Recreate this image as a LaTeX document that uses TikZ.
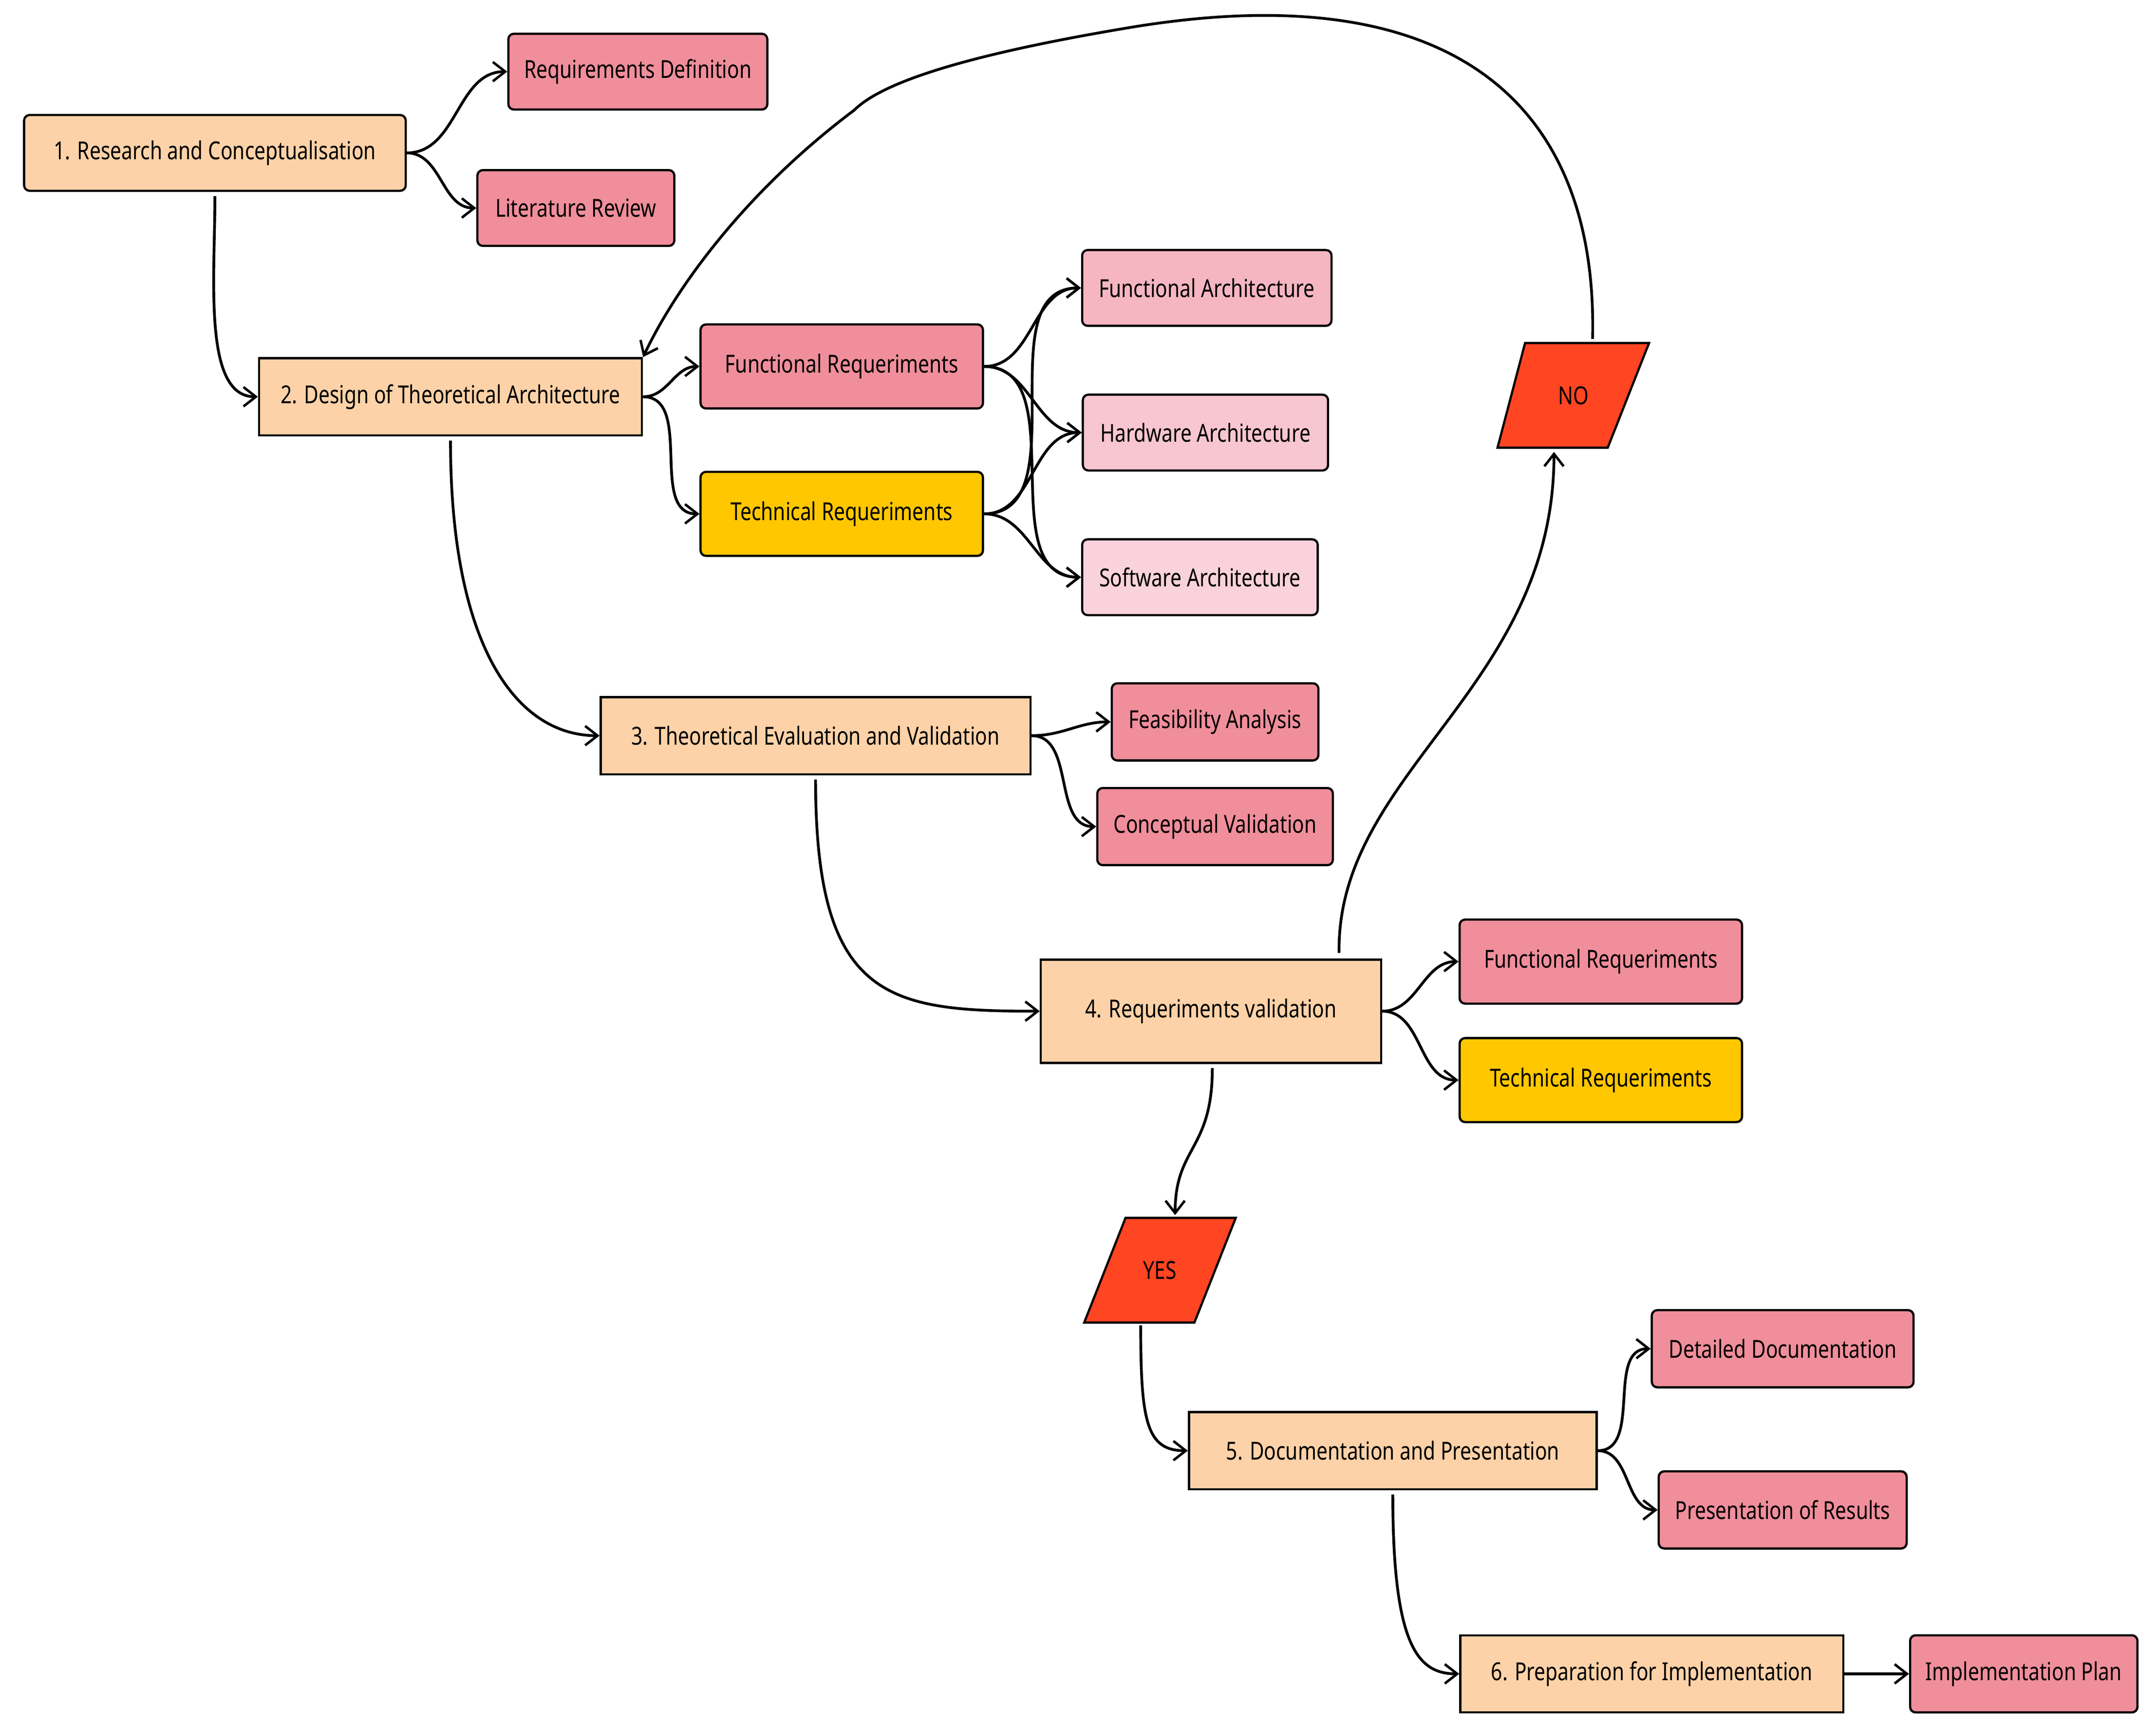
\documentclass[tikz,border=0pt]{standalone}
\usepackage{fontspec}
\setmainfont{Noto Sans}[FakeStretch=0.8]
\usetikzlibrary{arrows.meta}
\definecolor{peach}{HTML}{FDD2A8}
\definecolor{pk}{HTML}{F08E9B}
\definecolor{pk2}{HTML}{F5B6C1}
\definecolor{pk3}{HTML}{F7C6D0}
\definecolor{pk4}{HTML}{F9D2DB}
\definecolor{yel}{HTML}{FFC700}
\definecolor{red}{HTML}{FF4522}
\begin{document}
\begin{tikzpicture}[x=1pt,y=-1pt,
 box/.style={draw,line width=1.6pt,inner sep=0pt,font=\fontsize{18}{20}\selectfont,text=black},
 main/.style={box,fill=peach},
 sub/.style={box,rounded corners=4pt},
 ar/.style={line width=2pt,-{Straight Barb[length=9pt,width=14pt,line width=1.8pt]}}]
\useasboundingbox (0,0) rectangle (1565,1252);
\node[main,rounded corners=4pt,minimum width=277pt,minimum height=55pt] (n1) at (156,111) {1. Research and Conceptualisation};
\node[sub,fill=pk,minimum width=188pt,minimum height=55pt] (rd) at (463,52) {Requirements Definition};
\node[sub,fill=pk,minimum width=143pt,minimum height=55pt] (lr) at (418,151) {Literature Review};
\node[main,minimum width=278pt,minimum height=56pt] (n2) at (327,288) {2. Design of Theoretical Architecture};
\node[sub,fill=pk,minimum width=205pt,minimum height=61pt] (fr) at (611,266) {Functional Requeriments};
\node[sub,fill=yel,minimum width=205pt,minimum height=61pt] (tr) at (611,373) {Technical Requeriments};
\node[sub,fill=pk2,minimum width=181pt,minimum height=55pt] (fa) at (876,209) {Functional Architecture};
\node[sub,fill=pk3,minimum width=178pt,minimum height=55pt] (ha) at (875,314) {Hardware Architecture};
\node[sub,fill=pk4,minimum width=171pt,minimum height=55pt] (sa) at (871,419) {Software Architecture};
\node[main,minimum width=312pt,minimum height=56pt] (n3) at (592,534) {3. Theoretical Evaluation and Validation};
\node[sub,fill=pk,minimum width=150pt,minimum height=56pt] (fe) at (882,524) {Feasibility Analysis};
\node[sub,fill=pk,minimum width=171pt,minimum height=56pt] (cv) at (882,600) {Conceptual Validation};
\node[main,minimum width=247pt,minimum height=75pt] (n4) at (879,734) {4. Requeriments validation};
\node[sub,fill=pk,minimum width=205pt,minimum height=61pt] (fr2) at (1162,698) {Functional Requeriments};
\node[sub,fill=yel,minimum width=205pt,minimum height=61pt] (tr2) at (1162,784) {Technical Requeriments};
\node[main,minimum width=296pt,minimum height=56pt] (n5) at (1011,1053) {5. Documentation and Presentation};
\node[sub,fill=pk,minimum width=190pt,minimum height=56pt] (dd) at (1294,979) {Detailed Documentation};
\node[sub,fill=pk,minimum width=180pt,minimum height=56pt] (pr) at (1294,1096) {Presentation of Results};
\node[main,minimum width=278pt,minimum height=56pt] (n6) at (1199,1215) {6. Preparation for Implementation};
\node[sub,fill=pk,minimum width=165pt,minimum height=56pt] (ip) at (1469,1215) {Implementation Plan};
% parallelograms
\draw[fill=red,line width=1.6pt] (1107,249)--(1197,249)--(1167,325)--(1087,325)--cycle;
\node[font=\fontsize{18}{20}\selectfont] (no) at (1142,287) {NO};
\draw[fill=red,line width=1.6pt] (817,884)--(897,884)--(867,960)--(787,960)--cycle;
\node[font=\fontsize{18}{20}\selectfont] (yes) at (842,922) {YES};
\coordinate (not) at (1156,246);
\coordinate (nob) at (1128,328);
\coordinate (yt) at (853,882);
\coordinate (yb) at (828,962);
% edges
\draw[ar] (n1.south) ++(0,3) .. controls +(0,60) and +(-40,0) .. (n2.west);
\draw[ar] (n1.east) to[out=0,in=180] (rd.west);
\draw[ar] (n1.east) to[out=0,in=180] (lr.west);
\draw[ar] (not) .. controls (1160,80) and (1060,-20) .. (820,20) .. controls (700,40) and (640,60) .. (620,80) .. controls (540,140) and (490,210) .. (n2.north east);
\draw[ar] (n2.east) to[out=0,in=180] (fr.west);
\draw[ar] (n2.east) to[out=0,in=180] (tr.west);
\foreach \s in {fr,tr}{\foreach \t in {fa,ha,sa}{\draw[ar] (\s.east) to[out=0,in=180] (\t.west);}}
\draw[ar] (n2.south) ++(0,3) .. controls +(0,150) and +(-60,0) .. (n3.west);
\draw[ar] (n3.east) to[out=0,in=180] (fe.west);
\draw[ar] (n3.east) to[out=0,in=180] (cv.west);
\draw[ar] (n3.south) ++(0,3) .. controls +(0,160) and +(-110,0) .. (n4.west);
\draw[ar] (n4.east) to[out=0,in=180] (fr2.west);
\draw[ar] (n4.east) to[out=0,in=180] (tr2.west);
\draw[ar] (n4.north) ++(93,-4) .. controls (970,560) and (1128,500) .. (nob);
\draw[ar] (n4.south) ++(1,3) .. controls +(0,60) and +(0,-50) .. (yt);
\draw[ar] (yb) .. controls +(0,70) and +(-30,0) .. (n5.west);
\draw[ar] (n5.east) to[out=0,in=180] (dd.west);
\draw[ar] (n5.east) to[out=0,in=180] (pr.west);
\draw[ar] (n5.south) ++(0,3) .. controls +(0,110) and +(-30,0) .. (n6.west);
\draw[ar] (n6.east) -- (ip.west);
\end{tikzpicture}
\end{document}
